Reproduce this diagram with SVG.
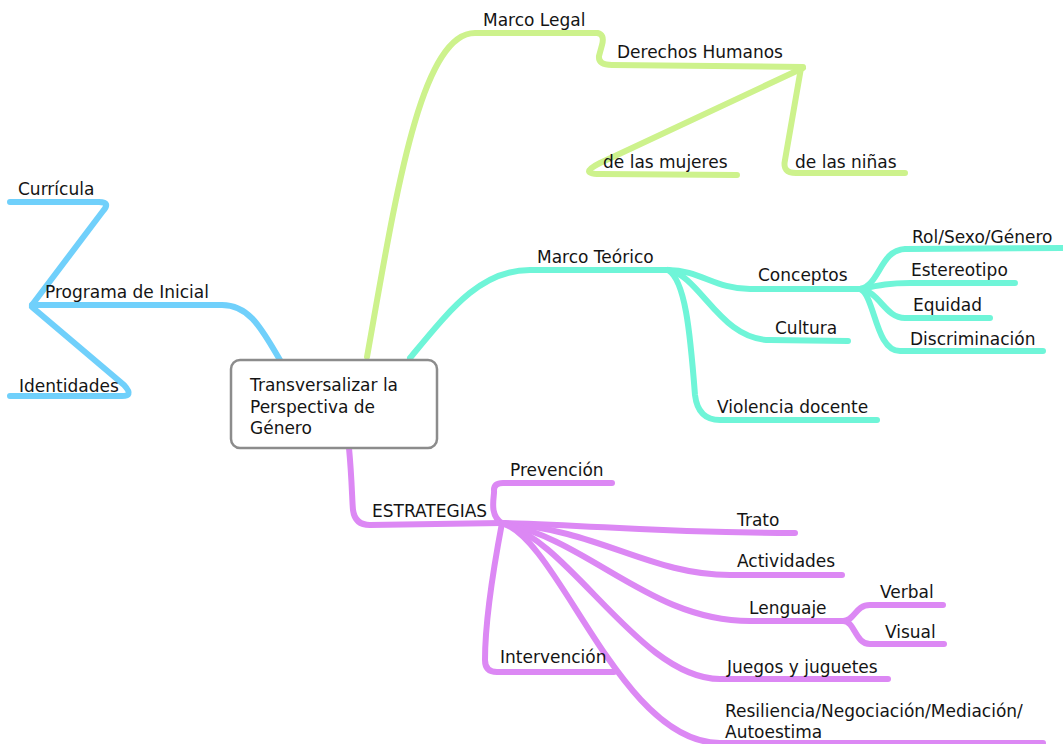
<svg xmlns="http://www.w3.org/2000/svg" width="1063" height="744" viewBox="0 0 1063 744">
<style>
text{font-family:"DejaVu Sans","Liberation Sans",sans-serif;font-size:17px;fill:#141414}
.c{fill:none;stroke-width:6;stroke-linecap:round;stroke-linejoin:round}
.b{stroke:#70d0fb}.g{stroke:#cdf28c}.t{stroke:#6ff5d8}.p{stroke:#dc88f4}
</style>
<rect width="1063" height="744" fill="#fff"/>
<g id="connectors">
<path class="c b" d="M280 360 C262 330 250 305 222 305 L32 305"/>
<path class="c b" d="M32 305 L103 211 Q111 202 99 202 L10 202"/>
<path class="c b" d="M32 307 L124 385 Q135 397 120 396 L10 396"/>
<path class="c g" d="M367 357 C395 200 420 33 475 33 L597 33"/>
<path class="c g" d="M597 33 Q605 34 602 45 L599 56 Q598 65 612 65 L803 67"/>
<path class="c g" d="M803 68 L600 163 Q578 174 600 174 L737 175"/>
<path class="c g" d="M801 68 L785 160 Q782 173 796 173 L905 173"/>
<path class="c t" d="M410 358 C450 310 480 270 530 270 L668 270"/>
<path class="c t" d="M668 270 C700 270 715 289 750 289 L862 289"/>
<path class="c t" d="M668 270 C700 275 720 340 770 340 L848 341"/>
<path class="c t" d="M668 270 C685 280 690 330 695 395 Q698 420 720 420 L877 420"/>
<path class="c t" d="M860 289 C880 285 880 250 905 249 L1062 248"/>
<path class="c t" d="M860 289 C880 285 890 283 910 283 L1015 283"/>
<path class="c t" d="M860 289 C880 292 885 318 905 318 L990 318"/>
<path class="c t" d="M860 289 C875 295 875 351 900 351 L1043 351"/>
<path class="c p" d="M349 448 C352 480 352 500 353 510 Q355 525 370 525 L502 523"/>
<path class="c p" d="M502 523 C488 515 495 495 494 490 Q494 483 503 483 L612 483"/>
<path class="c p" d="M502 523 C495 560 485 620 485 660 Q485 672 497 672 L614 672"/>
<path class="c p" d="M502 523 C600 525 650 533 795 533"/>
<path class="c p" d="M502 523 C600 530 650 575 730 575 L842 575"/>
<path class="c p" d="M502 523 C590 540 650 621 750 621 L843 621"/>
<path class="c p" d="M843 621 C855 621 855 605 870 605 L943 605"/>
<path class="c p" d="M843 621 C855 621 855 644 870 644 L944 644"/>
<path class="c p" d="M502 523 C570 540 640 679 720 679 L888 679"/>
<path class="c p" d="M502 523 C560 540 620 743 720 743 L1043 743"/>
</g>
<g id="central">
<rect x="231" y="360" width="206" height="88" rx="9" fill="#fff" stroke="#8c8c8c" stroke-width="2.5"/>
<text x="250" y="391">Transversalizar la</text>
<text x="250" y="413">Perspectiva de</text>
<text x="250" y="434">Género</text>
</g>
<g id="programa"><text x="45" y="298">Programa de Inicial</text></g>
<g id="curricula"><text x="18" y="195">Currícula</text></g>
<g id="identidades"><text x="19" y="392">Identidades</text></g>
<g id="marco-legal"><text x="483" y="26">Marco Legal</text></g>
<g id="derechos"><text x="617" y="58">Derechos Humanos</text></g>
<g id="mujeres"><text x="603" y="168">de las mujeres</text></g>
<g id="ninas"><text x="795" y="168">de las niñas</text></g>
<g id="marco-teorico"><text x="537" y="263">Marco Teórico</text></g>
<g id="conceptos"><text x="758" y="281">Conceptos</text></g>
<g id="cultura"><text x="775" y="334">Cultura</text></g>
<g id="violencia"><text x="717" y="413">Violencia docente</text></g>
<g id="rol"><text x="912" y="243">Rol/Sexo/Género</text></g>
<g id="estereotipo"><text x="911" y="276">Estereotipo</text></g>
<g id="equidad"><text x="913" y="311">Equidad</text></g>
<g id="discriminacion"><text x="910" y="345">Discriminación</text></g>
<g id="estrategias"><text x="372" y="517">ESTRATEGIAS</text></g>
<g id="prevencion"><text x="510" y="476">Prevención</text></g>
<g id="intervencion"><text x="500" y="663">Intervención</text></g>
<g id="trato"><text x="737" y="526">Trato</text></g>
<g id="actividades"><text x="737" y="567">Actividades</text></g>
<g id="lenguaje"><text x="749" y="614">Lenguaje</text></g>
<g id="verbal"><text x="880" y="598">Verbal</text></g>
<g id="visual"><text x="885" y="638">Visual</text></g>
<g id="juegos"><text x="727" y="673">Juegos y juguetes</text></g>
<g id="resiliencia"><text x="725" y="717">Resiliencia/Negociación/Mediación/</text><text x="725" y="738">Autoestima</text></g>
</svg>
